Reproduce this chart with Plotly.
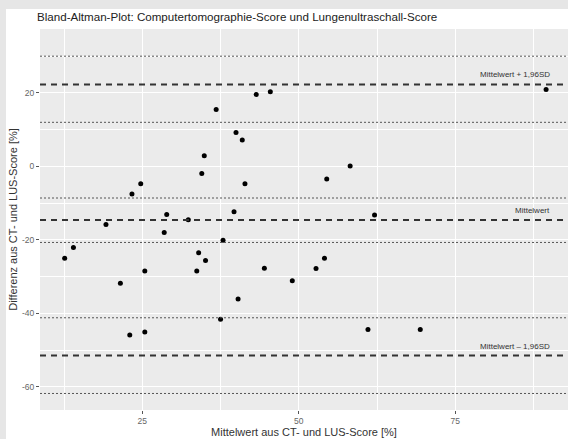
import plotly.graph_objects as go

# Mean of CT and LUS score [%] and their difference [%]
mean_score = [12.6, 14.0, 19.2, 21.5, 23.0, 23.35, 24.75, 25.4, 25.4, 28.5,
              28.9, 32.35, 33.7, 34.0, 34.5, 34.9, 35.1, 36.8, 37.5, 37.9,
              39.65, 39.97, 40.3, 40.97, 41.4, 43.2, 44.5, 45.45, 48.96, 52.75,
              54.1, 54.46, 58.2, 61.05, 62.1, 69.4, 89.5]
diff_score = [-25.0, -22.1, -15.8, -31.8, -45.9, -7.5, -4.7, -28.5, -45.1, -18.0,
              -13.1, -14.5, -28.5, -23.5, -1.9, 2.9, -25.6, 15.5, -41.6, -20.1,
              -12.35, 9.25, -36.1, 7.16, -4.7, 19.6, -27.7, 20.3, -31.1, -27.8,
              -25.0, -3.46, 0.08, -44.4, -13.2, -44.4, 20.95]

# Bias and limits of agreement with their confidence bounds
bias = -14.6
upper_loa = 22.3
lower_loa = -51.5
ci_bounds = [30.0, 12.0, -8.6, -20.7, -41.2, -61.8]

line_labels = ["Mittelwert + 1,96SD", "Mittelwert", "Mittelwert \u2013 1,96SD"]

x_range = [8.66, 93.0]
y_range = [-66.3, 37.4]
x_ticks = [25, 50, 75]
x_ticktext = ["25", "50", "75"]
y_ticks = [-60, -40, -20, 0, 20]
y_ticktext = ["-60", "-40", "-20", "0", "20"]

FONT = "Liberation Sans, Arial, sans-serif"
W, H = 568, 439
ML, MR, MT, MB = 40, 0, 29, 29

fig = go.Figure()

fig.add_trace(go.Scatter(
    x=mean_score, y=diff_score, mode="markers",
    marker=dict(color="black", size=5, line=dict(width=0)),
    hoverinfo="skip", showlegend=False,
))

# dotted confidence-interval lines
for yv in ci_bounds:
    fig.add_shape(type="line", xref="paper", x0=0, x1=1, yref="y", y0=yv, y1=yv,
                  line=dict(color="#555555", width=1, dash="2px,2px"), layer="above")

# dashed bias and limits of agreement
for yv in (upper_loa, bias, lower_loa):
    fig.add_shape(type="line", xref="paper", x0=0, x1=1, yref="y", y0=yv, y1=yv,
                  line=dict(color="#333333", width=2, dash="6px,5px"), layer="above")

for yv, txt in zip((upper_loa, bias, lower_loa), line_labels):
    fig.add_annotation(x=90.4, y=yv, xref="x", yref="y", text=txt, showarrow=False,
                       xanchor="right", yanchor="bottom", yshift=3,
                       font=dict(family=FONT, size=8, color="#333333"))

# light outer frame on the left and top edges
pw = W - ML - MR
ph = H - MT - MB
frame = "#e6e6e6"
fig.add_shape(type="rect", xref="paper", yref="paper",
              x0=-ML / pw, x1=(W - ML) / pw, y0=(H - MB - 9) / ph, y1=(H - MB) / ph,
              fillcolor=frame, line=dict(width=0), layer="below")
fig.add_shape(type="rect", xref="paper", yref="paper",
              x0=-ML / pw, x1=(6 - ML) / pw, y0=-MB / ph, y1=(H - MB) / ph,
              fillcolor=frame, line=dict(width=0), layer="below")

axis_common = dict(
    showline=False, zeroline=False,
    gridcolor="white", gridwidth=1.3,
    ticks="outside", ticklen=3, tickwidth=1, tickcolor="#555555",
    tickfont=dict(family=FONT, size=8.5, color="#666666"),
)

fig.update_xaxes(
    range=x_range, tickvals=x_ticks, ticktext=x_ticktext, **axis_common,
    minor=dict(tickvals=[12.5, 37.5, 62.5, 87.5], showgrid=True,
               gridcolor="white", gridwidth=0.7, ticks=""),
    title=dict(text="Mittelwert aus CT- und LUS-Score [%]", standoff=3,
               font=dict(family=FONT, size=11, color="#333333")),
)
fig.update_yaxes(
    range=y_range, tickvals=y_ticks, ticktext=y_ticktext, **axis_common,
    minor=dict(tickvals=[-50, -30, -10, 10, 30], showgrid=True,
               gridcolor="white", gridwidth=0.7, ticks=""),
    title=dict(text="Differenz aus CT- und LUS-Score [%]", standoff=2,
               font=dict(family=FONT, size=11, color="#333333")),
)

fig.update_layout(
    width=W, height=H,
    margin=dict(l=ML, r=MR, t=MT, b=MB, autoexpand=False),
    paper_bgcolor="white", plot_bgcolor="#ebebeb",
    title=dict(text="Bland-Altman-Plot: Computertomographie-Score und Lungenultraschall-Score",
               x=37 / W, xanchor="left", y=1 - 17 / H, yanchor="middle",
               font=dict(family=FONT, size=11.6, color="#222222")),
    font=dict(family=FONT),
)

fig.write_html("out.html")
